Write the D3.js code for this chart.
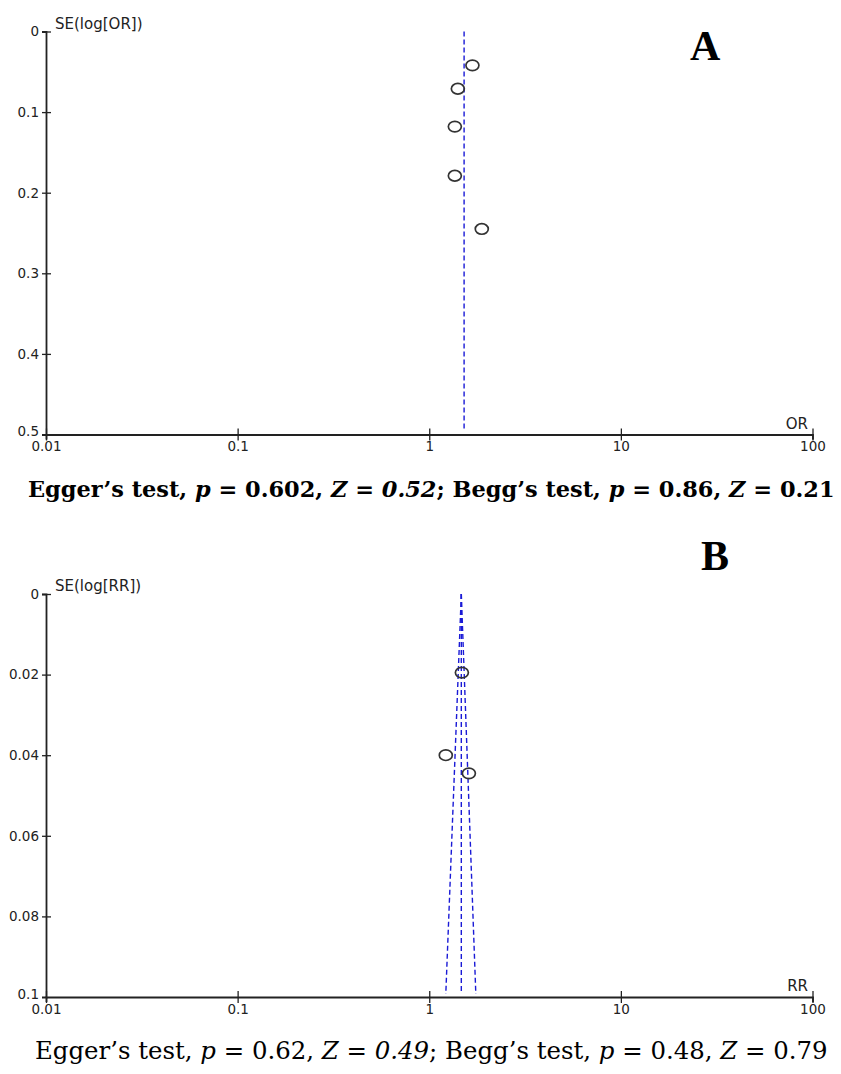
<!DOCTYPE html>
<html>
<head>
<meta charset="utf-8">
<script src="https://cdn.jsdelivr.net/npm/d3@7"></script>
<style>
  body { margin: 0; background: #fff; }
  svg { display: block; }
  .tick text { font-family: "DejaVu Sans", Arial, sans-serif; }
</style>
</head>
<body>
<svg id="chart" width="841" height="1074"></svg>
<script>
// tick values shared by both panels
const xTicks = [0.01, 0.1, 1, 10, 100];

// panel A : OR
const seTicksA = [0, 0.1, 0.2, 0.3, 0.4, 0.5];
const orA = [1.68, 1.41, 1.36, 1.36, 1.88];
const seA = [0.042, 0.071, 0.118, 0.179, 0.245];
const pooledA = 1.52;

// panel B : RR
const seTicksB = [0, 0.02, 0.04, 0.06, 0.08, 0.1];
const rrB = [1.48, 1.22, 1.61];
const seB = [0.0195, 0.040, 0.0445];
const pooledB = 1.47;
const funnelB = [1.22, 1.75];   // limits at bottom of the funnel

const axisCol = '#222';
const lineCol = '#1a1ad6';

const svg = d3.select('#chart');

function drawPanel(opt){
	const x = d3.scaleLog().domain([0.01, 100]).range([46, 812.5]);
	const y = d3.scaleLinear().domain([0, opt.seMax]).range([opt.top, opt.top + 403]);
	const g = svg.append('g');

	// y axis
	const yAx = g.append('g')
		.attr('transform', `translate(${x(0.01)},0)`)
		.call(d3.axisLeft(y).tickValues(opt.seTicks).tickFormat(d => String(d)).tickSizeOuter(0).tickSize(4));
	yAx.select('.domain').attr('stroke', axisCol).attr('stroke-width', 1.8);
	yAx.selectAll('.tick line').attr('x1', -4).attr('x2', 5).attr('stroke', axisCol).attr('stroke-width', 1.3);
	yAx.selectAll('.tick text').attr('x', -7).attr('font-size', 13.5).attr('fill', axisCol);
	// last label sits on the x axis: no tick line, label nudged up
	const last = yAx.selectAll('.tick').filter(d => d === opt.seMax);
	last.select('line').remove();
	last.select('text').attr('y', -3);

	// x axis
	const xAx = g.append('g')
		.attr('transform', `translate(0,${y(opt.seMax)})`)
		.call(d3.axisBottom(x).tickValues(xTicks).tickFormat(d => String(d)).tickSizeOuter(0).tickSize(5));
	xAx.select('.domain').attr('stroke', axisCol).attr('stroke-width', 1.8);
	xAx.selectAll('.tick line').attr('y1', -6).attr('y2', 6).attr('stroke', axisCol).attr('stroke-width', 1.3);
	xAx.selectAll('.tick text').attr('y', 7).attr('font-size', 13.5).attr('fill', axisCol);

	g.append('text')
		.attr('x', 55).attr('y', opt.top - 3)
		.attr('font-family', '"DejaVu Sans", Arial, sans-serif')
		.attr('font-size', 15).attr('fill', axisCol)
		.text(opt.yLabel);
	g.append('text')
		.attr('x', 808).attr('y', y(opt.seMax) - 6)
		.attr('text-anchor', 'end')
		.attr('font-family', '"DejaVu Sans", Arial, sans-serif')
		.attr('font-size', 15).attr('fill', axisCol)
		.text(opt.xLabel);

	// pooled estimate and funnel
	const bottom = y(opt.seMax) - 3;
	g.append('line')
		.attr('x1', x(opt.pooled)).attr('x2', x(opt.pooled))
		.attr('y1', y(0)).attr('y2', bottom)
		.attr('stroke', lineCol).attr('stroke-width', 1.4)
		.attr('stroke-dasharray', '5,3');
	if(opt.funnel){
		opt.funnel.forEach(f => {
			g.append('line')
				.attr('x1', x(opt.pooled)).attr('y1', y(0))
				.attr('x2', x(f)).attr('y2', bottom)
				.attr('stroke', lineCol).attr('stroke-width', 1.4)
				.attr('stroke-dasharray', '5,3');
		});
	}

	// studies
	g.selectAll('ellipse.study')
		.data(opt.est.map((d, i) => ({est: d, se: opt.se[i]})))
		.join('ellipse')
			.attr('class', 'study')
			.attr('cx', d => x(d.est))
			.attr('cy', d => y(d.se))
			.attr('rx', 6.5).attr('ry', 5.3)
			.attr('fill', 'none')
			.attr('stroke', '#333')
			.attr('stroke-width', 1.7);

	// panel letter
	g.append('text')
		.attr('x', opt.letterX).attr('y', opt.letterY)
		.attr('font-family', '"Liberation Serif", "Times New Roman", serif')
		.attr('font-weight', 'bold').attr('font-size', 42)
		.attr('fill', '#000')
		.text(opt.letter);
}

function caption(parts, yPos, x0, x1, bold){
	const t = svg.append('text')
		.attr('x', x0).attr('y', yPos)
		.attr('font-family', '"DejaVu Serif", "Liberation Serif", serif')
		.attr('font-weight', bold ? 'bold' : 'normal')
		.attr('font-size', 24)
		.attr('fill', '#000');
	parts.forEach(p => {
		t.append('tspan')
			.attr('font-style', p[1] ? 'italic' : 'normal')
			.text(p[0]);
	});
	const w = t.node().getComputedTextLength();
	t.attr('font-size', 24 * (x1 - x0) / w);
}

drawPanel({
	top: 31.5, seMax: 0.5, seTicks: seTicksA,
	est: orA, se: seA, pooled: pooledA,
	yLabel: 'SE(log[OR])', xLabel: 'OR',
	letter: 'A', letterX: 690, letterY: 60
});
drawPanel({
	top: 594, seMax: 0.1, seTicks: seTicksB,
	est: rrB, se: seB, pooled: pooledB, funnel: funnelB,
	yLabel: 'SE(log[RR])', xLabel: 'RR',
	letter: 'B', letterX: 701, letterY: 570
});

caption([
	['Egger\u2019s test, ', false], ['p', true], [' = 0.602, ', false], ['Z', true], [' = ', false],
	['0.52', true], ['; Begg\u2019s test, ', false], ['p', true], [' = 0.86, ', false], ['Z', true], [' = 0.21', false]
], 497, 28, 835, true);
caption([
	['Egger\u2019s test, ', false], ['p', true], [' = 0.62, ', false], ['Z', true], [' = ', false],
	['0.49', true], ['; Begg\u2019s test, ', false], ['p', true], [' = 0.48, ', false], ['Z', true], [' = 0.79', false]
], 1059, 35, 828, false);
</script>
</body>
</html>
